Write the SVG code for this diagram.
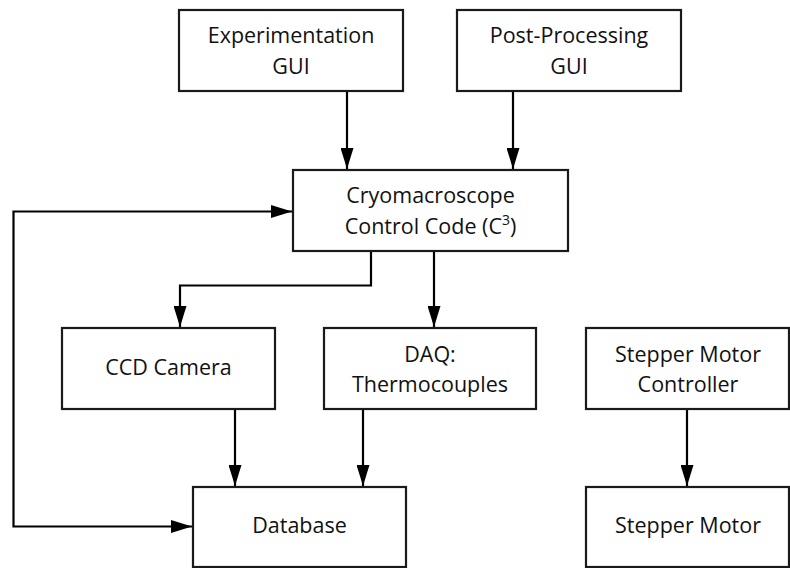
<svg xmlns="http://www.w3.org/2000/svg" width="790" height="568" viewBox="0 0 790 568">
  <style>
    .box { fill: #ffffff; stroke: #1a1a1a; stroke-width: 2.2; }
    .lbl { font-family: "Open Sans", "DejaVu Sans", sans-serif; font-size: 21.5px; fill: #111111; text-anchor: middle; }
    .wire { fill: none; stroke: #000000; stroke-width: 2.2; }
  </style>
  <defs>
    <marker id="head" markerUnits="userSpaceOnUse" markerWidth="21" markerHeight="13" refX="21" refY="6.5" orient="auto-start-reverse">
      <path d="M0,0 L21,6.5 L0,13 z" fill="#000000"/>
    </marker>
  </defs>
  <rect width="790" height="568" fill="#ffffff"/>

  <!-- connectors -->
  <g id="connectors">
    <path class="wire" d="M347,91 V169" marker-end="url(#head)"/>
    <path class="wire" d="M513,91 V169" marker-end="url(#head)"/>
    <path class="wire" d="M371,251 V285.5 H180 V327" marker-end="url(#head)"/>
    <path class="wire" d="M434,251 V327" marker-end="url(#head)"/>
    <path class="wire" d="M235,409 V486" marker-end="url(#head)"/>
    <path class="wire" d="M363,409 V486" marker-end="url(#head)"/>
    <path class="wire" d="M687,409 V486" marker-end="url(#head)"/>
    <!-- feedback loop: arrowheads at both ends -->
    <path class="wire" d="M192,526.5 H13.5 V211.5 H292" marker-start="url(#head)" marker-end="url(#head)"/>
  </g>

  <!-- nodes -->
  <g id="experimentation-gui">
    <rect class="box" x="179" y="10" width="224" height="81"/>
    <text class="lbl" x="291" y="43">Experimentation</text>
    <text class="lbl" x="291" y="74">GUI</text>
  </g>
  <g id="post-processing-gui">
    <rect class="box" x="457" y="10" width="224" height="81"/>
    <text class="lbl" x="569" y="43">Post-Processing</text>
    <text class="lbl" x="569" y="74">GUI</text>
  </g>
  <g id="control-code">
    <rect class="box" x="293" y="170" width="275" height="81"/>
    <text class="lbl" x="430.5" y="203">Cryomacroscope</text>
    <text class="lbl" x="430.5" y="234">Control Code (C<tspan font-size="14" dy="-9">3</tspan><tspan dy="9">)</tspan></text>
  </g>
  <g id="ccd-camera">
    <rect class="box" x="62" y="328" width="213" height="81"/>
    <text class="lbl" x="168.5" y="375">CCD Camera</text>
  </g>
  <g id="daq">
    <rect class="box" x="324" y="328" width="212" height="81"/>
    <text class="lbl" x="430" y="362">DAQ:</text>
    <text class="lbl" x="430" y="392">Thermocouples</text>
  </g>
  <g id="stepper-controller">
    <rect class="box" x="586" y="328" width="203" height="81"/>
    <text class="lbl" x="688" y="362">Stepper Motor</text>
    <text class="lbl" x="688" y="392">Controller</text>
  </g>
  <g id="database">
    <rect class="box" x="193" y="487" width="213" height="80"/>
    <text class="lbl" x="299.5" y="533">Database</text>
  </g>
  <g id="stepper-motor">
    <rect class="box" x="586" y="487" width="203" height="80"/>
    <text class="lbl" x="688" y="533">Stepper Motor</text>
  </g>
</svg>
